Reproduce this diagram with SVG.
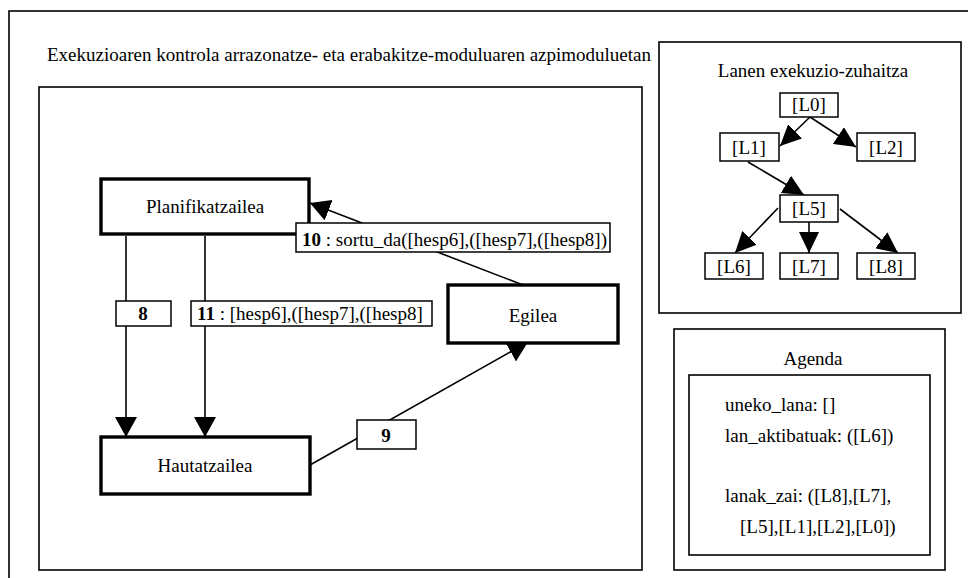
<svg xmlns="http://www.w3.org/2000/svg" width="968" height="578" viewBox="0 0 968 578">
  <style>
    text { font-family: "Liberation Serif", "Times New Roman", serif; fill: #000; font-size: 19px; }
    .frame { fill: #fff; stroke: #000; stroke-width: 1.6; }
    .node { fill: #fff; stroke: #000; stroke-width: 3.4; }
    .lbl { fill: #fff; stroke: #000; stroke-width: 1.5; }
    .tbox { fill: #fff; stroke: #000; stroke-width: 1.5; }
    .edge { fill: none; stroke: #000; stroke-width: 1.6; }
    .c { text-anchor: middle; }
    .b { font-weight: bold; }
  </style>
  <defs>
    <marker id="ah" viewBox="0 0 20 22" refX="20" refY="11" markerWidth="20" markerHeight="22" markerUnits="userSpaceOnUse" orient="auto">
      <path d="M0,0 L20,11 L0,22 z" fill="#000"/>
    </marker>
    <marker id="ahs" viewBox="0 0 21 20" refX="21" refY="10" markerWidth="21" markerHeight="20" markerUnits="userSpaceOnUse" orient="auto">
      <path d="M0,0 L21,10 L0,20 z" fill="#000"/>
    </marker>
  </defs>

  <rect width="968" height="578" fill="#fff"/>

  <!-- outer frame -->
  <rect class="frame" x="9" y="11" width="980" height="600"/>
  <text x="47" y="61">Exekuzioaren kontrola arrazonatze- eta erabakitze-moduluaren azpimoduluetan</text>

  <!-- left panel -->
  <rect class="frame" x="39" y="87" width="603" height="483"/>

  <!-- connectors of the module diagram -->
  <g id="connectors">
    <line class="edge" x1="126" y1="236" x2="126" y2="437" marker-end="url(#ah)"/>
    <line class="edge" x1="205" y1="236" x2="205" y2="437" marker-end="url(#ah)"/>
    <line class="edge" x1="523" y1="285" x2="310" y2="203" marker-end="url(#ah)"/>
    <line class="edge" x1="310" y1="465" x2="528" y2="342" marker-end="url(#ah)"/>
  </g>

  <g id="planifikatzailea">
    <rect class="node" x="101" y="179" width="208" height="55"/>
    <text class="c" x="205" y="213">Planifikatzailea</text>
  </g>
  <g id="hautatzailea">
    <rect class="node" x="101" y="437" width="209" height="57"/>
    <text class="c" x="205" y="472">Hautatzailea</text>
  </g>
  <g id="egilea">
    <rect class="node" x="448" y="285" width="170" height="58"/>
    <text class="c" x="533" y="322">Egilea</text>
  </g>

  <!-- connector labels -->
  <g id="label-8">
    <rect class="lbl" x="116" y="301" width="55" height="25"/>
    <text class="c b" x="143" y="320">8</text>
  </g>
  <g id="label-11">
    <rect class="lbl" x="191" y="301" width="241" height="25"/>
    <text x="197" y="320"><tspan class="b">11</tspan> : [hesp6],([hesp7],([hesp8]</text>
  </g>
  <g id="label-10">
    <rect class="lbl" x="296" y="223" width="314" height="29"/>
    <text x="302" y="246"><tspan class="b">10</tspan> : sortu_da([hesp6],([hesp7],([hesp8])</text>
  </g>
  <g id="label-9">
    <rect class="lbl" x="357" y="420" width="59" height="29"/>
    <text class="c b" x="386" y="442">9</text>
  </g>

  <!-- task execution tree -->
  <rect class="frame" x="659" y="42" width="302" height="271"/>
  <text class="c" x="813" y="77">Lanen exekuzio-zuhaitza</text>

  <g id="tree-connectors">
    <line class="edge" x1="810" y1="117" x2="780" y2="146" marker-end="url(#ahs)"/>
    <line class="edge" x1="810" y1="117" x2="856" y2="147" marker-end="url(#ahs)"/>
    <line class="edge" x1="748" y1="162" x2="804" y2="195" marker-end="url(#ahs)"/>
    <line class="edge" x1="778" y1="208" x2="735" y2="253" marker-end="url(#ahs)"/>
    <line class="edge" x1="809" y1="222" x2="809" y2="253" marker-end="url(#ahs)"/>
    <line class="edge" x1="840" y1="209" x2="898" y2="253" marker-end="url(#ahs)"/>
  </g>

  <g id="L0"><rect class="tbox" x="780" y="93" width="58" height="24"/><text class="c" x="809" y="111">[L0]</text></g>
  <g id="L1"><rect class="tbox" x="720" y="133" width="59" height="28"/><text class="c" x="749" y="154">[L1]</text></g>
  <g id="L2"><rect class="tbox" x="857" y="133" width="58" height="28"/><text class="c" x="886" y="154">[L2]</text></g>
  <g id="L5"><rect class="tbox" x="780" y="195" width="58" height="27"/><text class="c" x="809" y="215">[L5]</text></g>
  <g id="L6"><rect class="tbox" x="705" y="253" width="58" height="26"/><text class="c" x="734" y="273">[L6]</text></g>
  <g id="L7"><rect class="tbox" x="780" y="253" width="58" height="26"/><text class="c" x="809" y="273">[L7]</text></g>
  <g id="L8"><rect class="tbox" x="857" y="253" width="58" height="26"/><text class="c" x="886" y="273">[L8]</text></g>

  <!-- agenda -->
  <g id="agenda">
    <rect class="frame" x="674" y="329" width="271" height="241"/>
    <text class="c" x="813" y="365">Agenda</text>
    <rect class="frame" x="689" y="375" width="241" height="180"/>
    <text x="725" y="411">uneko_lana: []</text>
    <text x="725" y="442">lan_aktibatuak: ([L6])</text>
    <text x="725" y="502">lanak_zai: ([L8],[L7],</text>
    <text x="740" y="533">[L5],[L1],[L2],[L0])</text>
  </g>
</svg>
